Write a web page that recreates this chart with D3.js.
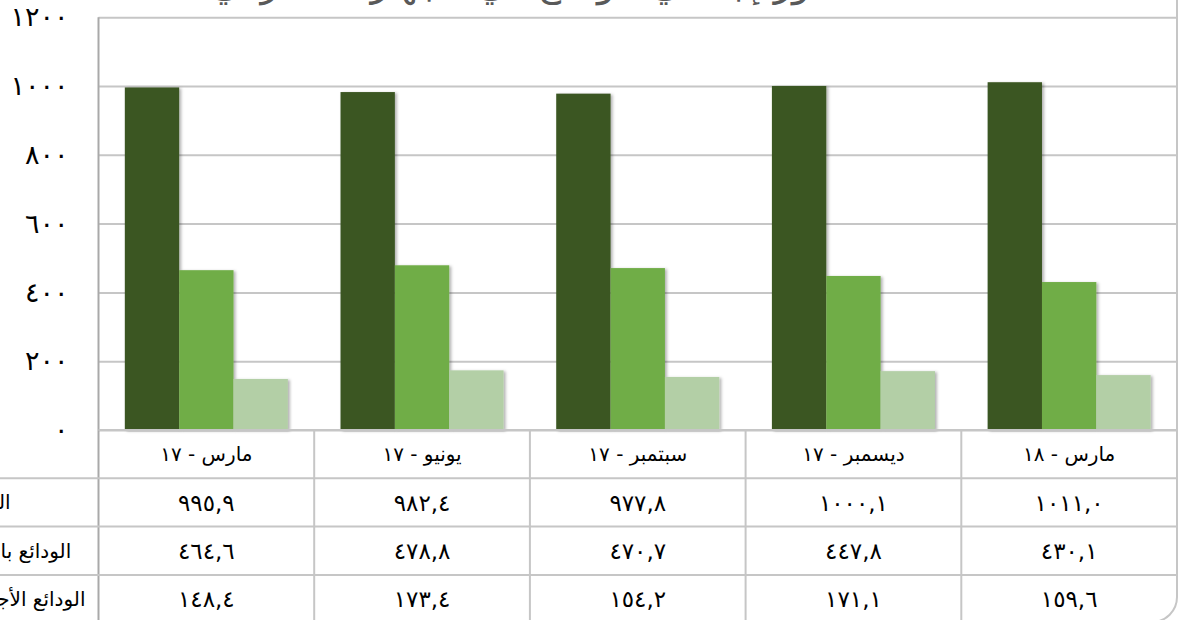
<!DOCTYPE html>
<html>
<head>
<meta charset="utf-8">
<script src="https://cdn.jsdelivr.net/npm/d3@7"></script>
<style>
  html, body { margin: 0; padding: 0; background: #ffffff; overflow: hidden; }
  svg { display: block; }
  text { font-family: "DejaVu Sans", sans-serif; }
</style>
</head>
<body>
<svg id="chart" width="1193" height="620"></svg>
<script>
// ---------- data ----------
const categories = ["مارس - ١٧", "يونيو - ١٧", "سبتمبر - ١٧", "ديسمبر - ١٧", "مارس - ١٨"];
const seriesNames = ["الودائع الكلية", "الودائع بالعملة المحلية لأجل", "الودائع الأجنبية بالعملات الصعبة"];
const totalDeposits = [995.9, 982.4, 977.8, 1000.1, 1011.0];
const secondDeposits = [464.6, 478.8, 470.7, 447.8, 430.1];
const thirdDeposits = [148.4, 173.4, 154.2, 171.1, 159.6];
const yTickValues = [0, 200, 400, 600, 800, 1000, 1200];
const titleText = "تطور إجمالي الودائع في الجهاز المصرفي";

const series = [totalDeposits, secondDeposits, thirdDeposits];
const colors = ["#3B5724", "#70AD47", "#B3CFA6"];

const arDigits = "٠١٢٣٤٥٦٧٨٩";
const toAr = s => String(s).replace(/[0-9]/g, d => arDigits[+d]);
const fmtVal = v => toAr(v.toFixed(1)).replace(".", ",");

// ---------- layout ----------
const svg = d3.select("#chart");
const pL = 98.5, pR = 1177, pT = 17.2, pB = 430;
const rowH = 48.3;
const gridColor = "#C6C6C6";
const fontStack = "DejaVu Sans, sans-serif";

const defs = svg.append("defs");
const f = defs.append("filter").attr("id", "shadow")
  .attr("x", "-10%").attr("y", "-10%").attr("width", "130%").attr("height", "130%");
f.append("feDropShadow").attr("dx", 2).attr("dy", 1).attr("stdDeviation", 1.6)
  .attr("flood-color", "#000").attr("flood-opacity", 0.3);

const x = d3.scaleBand().domain(categories).range([pL, pR]).padding(0);
const bw = x.bandwidth();
const x1 = d3.scaleBand().domain(d3.range(series.length)).range([bw * 0.122, bw * 0.878]).padding(0);
const y = d3.scaleLinear().domain([0, 1200]).range([pB, pT]);

// title (mostly cut off at top)
svg.append("text")
  .attr("x", 532).attr("y", -4)
  .attr("text-anchor", "middle")
  .attr("font-size", 38)
  .attr("fill", "#595959")
  .text(titleText);

// gridlines + y tick labels
const yAxisG = svg.append("g")
  .attr("transform", `translate(${pL},0)`)
  .call(d3.axisLeft(y).tickValues(yTickValues).tickSize(-(pR - pL)).tickFormat(d => toAr(d)).tickPadding(30));
yAxisG.select(".domain").remove();
yAxisG.selectAll(".tick line").attr("stroke", gridColor).attr("stroke-width", 2);
yAxisG.selectAll(".tick text")
  .attr("font-size", 27)
  .attr("fill", "#000")
  .attr("font-family", fontStack)
  .attr("letter-spacing", 4);

// bars
const groups = svg.append("g").selectAll("g")
  .data(categories)
  .join("g")
  .attr("transform", d => `translate(${x(d)},0)`);

groups.selectAll("rect")
  .data((c, i) => series.map((s, k) => ({ k, v: s[i] })))
  .join("rect")
  .attr("x", d => x1(d.k))
  .attr("width", x1.bandwidth())
  .attr("y", d => y(d.v))
  .attr("height", d => y(0) - y(d.v))
  .attr("fill", d => colors[d.k])
  .attr("filter", "url(#shadow)");

// left axis line
svg.append("line")
  .attr("x1", pL).attr("x2", pL).attr("y1", pT).attr("y2", 640)
  .attr("stroke", "#A9A9A9").attr("stroke-width", 2);

// ---------- data table ----------
const tableG = svg.append("g");
tableG.append("line")
  .attr("x1", pL).attr("x2", pR).attr("y1", pB).attr("y2", pB)
  .attr("stroke", gridColor).attr("stroke-width", 2);
const rowLines = d3.range(1, series.length + 2).map(i => pB + rowH * i);
tableG.selectAll("line.row")
  .data(rowLines)
  .join("line")
  .attr("class", "row")
  .attr("x1", -10).attr("x2", pR)
  .attr("y1", d => d).attr("y2", d => d)
  .attr("stroke", gridColor).attr("stroke-width", 2);
tableG.selectAll("line.col")
  .data(categories.slice(1))
  .join("line")
  .attr("class", "col")
  .attr("x1", d => x(d)).attr("x2", d => x(d))
  .attr("y1", pB).attr("y2", 640)
  .attr("stroke", gridColor).attr("stroke-width", 2);

tableG.selectAll("text.cat")
  .data(categories)
  .join("text")
  .attr("class", "cat")
  .attr("x", d => x(d) + bw / 2)
  .attr("y", pB + rowH / 2)
  .attr("dy", "0.35em")
  .attr("text-anchor", "middle")
  .attr("font-size", 20)
  .attr("fill", "#000")
  .text(d => d);

series.forEach((s, k) => {
  tableG.selectAll(`text.val${k}`)
    .data(s)
    .join("text")
    .attr("class", `val${k}`)
    .attr("x", (d, i) => x(categories[i]) + bw / 2)
    .attr("y", pB + rowH * (k + 1) + rowH / 2)
    .attr("dy", "0.35em")
    .attr("text-anchor", "middle")
    .attr("font-size", 23)
    .attr("letter-spacing", 2)
    .attr("fill", "#000")
    .text(d => fmtVal(d));
});

tableG.selectAll("text.rowlab")
  .data(seriesNames)
  .join("text")
  .attr("class", "rowlab")
  .attr("x", -42)
  .attr("y", (d, k) => pB + rowH * (k + 1) + rowH / 2)
  .attr("dy", "0.35em")
  .attr("text-anchor", "middle")
  .attr("font-size", 20)
  .attr("fill", "#000")
  .text(d => d);

// outer rounded border (right & bottom visible)
svg.append("rect")
  .attr("x", -40).attr("y", -40)
  .attr("width", pR + 40).attr("height", 622 + 40)
  .attr("rx", 25).attr("ry", 25)
  .attr("fill", "none")
  .attr("stroke", gridColor).attr("stroke-width", 2);
</script>
</body>
</html>
